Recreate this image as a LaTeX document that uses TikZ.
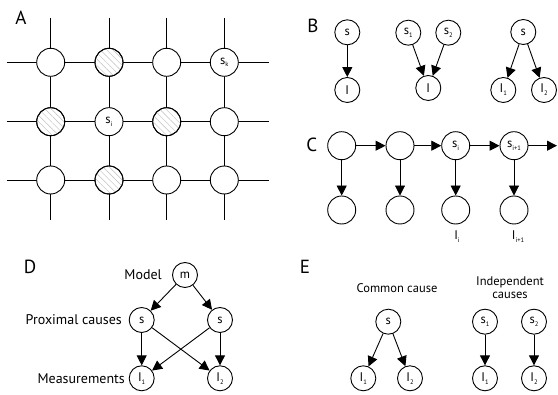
\documentclass[tikz,border=0pt]{standalone}
\usepackage{fontspec}
\setmainfont{PT Sans}
\usetikzlibrary{patterns.meta,arrows.meta}
\newcommand{\sbx}[1]{\raisebox{-2.8pt}{\fontsize{6.5}{7}\selectfont #1}}
\begin{document}
\begin{tikzpicture}[x=1pt,y=-1pt,
  gnode/.style={circle,draw,line width=0.9pt,fill=white,minimum size=28pt,inner sep=0pt,font=\fontsize{12.5}{14}\selectfont},
  hnode/.style={gnode,pattern={Lines[angle=-45,distance=4.5pt,line width=0.45pt]},pattern color=black!25},
  bnode/.style={circle,draw,line width=0.9pt,fill=white,minimum size=25pt,inner sep=0pt,font=\fontsize{12.5}{14}\selectfont},
  cnode/.style={bnode,minimum size=28pt},
  arr/.style={line width=0.9pt,-{Triangle[length=10pt,width=10pt]}},
  gline/.style={line width=0.9pt},
  plabel/.style={font=\fontsize{19}{22}\selectfont,inner sep=0pt},
  tlabel/.style={font=\fontsize{11.5}{13}\selectfont,inner sep=0pt},
  dlabel/.style={font=\fontsize{14}{16}\selectfont,inner sep=0pt,anchor=east}]
\useasboundingbox (0,0) rectangle (558,395);
% ---------- A ----------
\node[plabel] (LA) at (21,18) {A};
\foreach \i/\x in {1/50.7,2/109,3/166.7,4/224.3}{
  \coordinate (vt\i) at (\x,18); \coordinate (vb\i) at (\x,220);
  \draw[gline] (vt\i) -- (vb\i);}
\foreach \j/\y in {1/62.3,2/121.7,3/180}{
  \coordinate (hl\j) at (6.7,\y); \coordinate (hr\j) at (269,\y);
  \draw[gline] (hl\j) -- (hr\j);}
\node[gnode] (a11) at (50.7,62.3) {};
\node[gnode] (a12) at (109,62.3) {};
\node[hnode] (a12h) at (109,62.3) {};
\node[gnode] (a13) at (166.7,62.3) {};
\node[gnode] (a14) at (224.3,62.3) {s\sbx{k}};
\node[gnode] (a21) at (50.7,121.7) {};
\node[hnode] (a21h) at (50.7,121.7) {};
\node[gnode] (a22) at (109,121.7) {s\sbx{i}};
\node[gnode] (a23) at (166.7,121.7) {};
\node[hnode] (a23h) at (166.7,121.7) {};
\node[gnode] (a24) at (224.3,121.7) {};
\node[gnode] (a31) at (50.7,180) {};
\node[gnode] (a32) at (109,180) {};
\node[hnode] (a32h) at (109,180) {};
\node[gnode] (a33) at (166.7,180) {};
\node[gnode] (a34) at (224.3,180) {};
% ---------- B ----------
\node[plabel] (LB) at (313,26) {B};
\node[bnode] (b1s) at (347.3,32.3) {s};
\node[bnode] (b1i) at (347.3,90) {I};
\draw[arr] (b1s) -- (b1i);
\node[bnode] (b2s1) at (408.3,32.7) {s\sbx{1}};
\node[bnode] (b2s2) at (448.3,32.7) {s\sbx{2}};
\node[bnode] (b2i) at (428.3,88) {I};
\draw[arr] (b2s1) -- (b2i);
\draw[arr] (b2s2) -- (b2i);
\node[bnode] (b3s) at (523.3,32) {s};
\node[bnode] (b3i1) at (503.3,90) {I\sbx{1}};
\node[bnode] (b3i2) at (544,90) {I\sbx{2}};
\draw[arr] (b3s) -- (b3i1);
\draw[arr] (b3s) -- (b3i2);
% ---------- C ----------
\node[plabel] (LC) at (311.7,145) {C};
\node[cnode] (c1) at (341.7,145.7) {};
\node[cnode] (c2) at (400,145.7) {};
\node[cnode] (c3) at (455.7,145.7) {s\sbx{i}};
\node[cnode] (c4) at (514,145.7) {s\sbx{i+1}};
\node[cnode] (d1) at (341.7,210) {};
\node[cnode] (d2) at (400,210) {};
\node[cnode] (d3) at (455.7,210) {};
\node[cnode] (d4) at (514,210) {};
\coordinate (cend) at (557,145.7);
\draw[arr] (c1) -- (c2);
\draw[arr] (c2) -- (c3);
\draw[arr] (c3) -- (c4);
\draw[arr] (c4) -- (cend);
\foreach \k in {1,2,3,4}{\draw[arr] (c\k) -- (d\k);}
\node[tlabel,font=\fontsize{12.5}{14}\selectfont] (ci) at (457,237) {I\sbx{i}};
\node[tlabel,font=\fontsize{12.5}{14}\selectfont] (cii) at (518,237) {I\sbx{i+1}};
% ---------- D ----------
\node[plabel] (LD) at (30,266.7) {D};
\node[bnode] (dm) at (185,275) {m};
\node[bnode] (dsl) at (141.7,320) {s};
\node[bnode] (dsr) at (220,320) {s};
\node[bnode] (di1) at (141.7,378.3) {I\sbx{1}};
\node[bnode] (di2) at (220,378.3) {I\sbx{2}};
\draw[arr] (dm) -- (dsl);
\draw[arr] (dm) -- (dsr);
\draw[arr] (dsl) -- (di1);
\draw[arr] (dsl) -- (di2);
\draw[arr] (dsr) -- (di1);
\draw[arr] (dsr) -- (di2);
\node[dlabel] (tm) at (162,275) {Model};
\node[dlabel] (tp) at (122,320) {Proximal causes};
\node[dlabel] (tmeas) at (125,378.3) {Measurements};
% ---------- E ----------
\node[plabel] (LE) at (305,266.7) {E};
\node[tlabel,font=\fontsize{12.5}{14}\selectfont] (tcc) at (397,288.3) {Common cause};
\node[tlabel,align=center,font=\fontsize{12.5}{14}\selectfont] (tic) at (510,288) {Independent\\[-1pt]causes};
\node[bnode] (es) at (388.3,321.7) {s};
\node[bnode] (ei1) at (363.3,378.3) {I\sbx{1}};
\node[bnode] (ei2) at (410,378.3) {I\sbx{2}};
\draw[arr] (es) -- (ei1);
\draw[arr] (es) -- (ei2);
\node[bnode] (fs1) at (485,321.7) {s\sbx{1}};
\node[bnode] (fs2) at (534,321.7) {s\sbx{2}};
\node[bnode] (fi1) at (485,378.3) {I\sbx{1}};
\node[bnode] (fi2) at (534,378.3) {I\sbx{2}};
\draw[arr] (fs1) -- (fi1);
\draw[arr] (fs2) -- (fi2);
\end{tikzpicture}
\end{document}
